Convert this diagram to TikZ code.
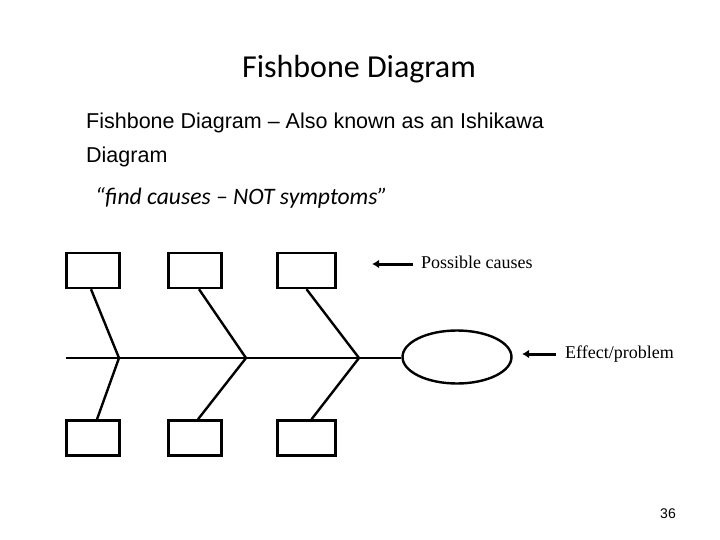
\documentclass[tikz,border=0pt]{standalone}
\usepackage{fontspec}
\setmainfont{Liberation Sans}
\newfontfamily\titlefont{Carlito}
\newfontfamily\labelfont{Liberation Serif}
\usetikzlibrary{arrows.meta,shapes.geometric}

\tikzset{
  cause/.style={draw, line width=2.4pt, minimum width=53pt, minimum height=35pt, inner sep=0pt},
  bone/.style={line width=2.4pt},
  pointer/.style={line width=3pt, -{Latex[length=7pt,width=8.5pt]}},
  tag/.style={font=\labelfont\fontsize{18}{20}\selectfont, inner sep=0pt, anchor=base west}
}

\begin{document}
\begin{tikzpicture}[x=1pt,y=1pt]
    % Marco fijo de la diapositiva
    \useasboundingbox (0,0) rectangle (720,-540);

    % Titulos
    \node[anchor=base, inner sep=0pt, font=\titlefont\fontsize{32}{36}\selectfont] (title) at (359,-78) {Fishbone Diagram};
    \node[anchor=north west, align=left, inner sep=0pt,
          font=\fontsize{21.5}{34}\selectfont] (intro) at (86,-113)
          {Fishbone Diagram – Also known as an Ishikawa\\Diagram};
    \node[anchor=base west, inner sep=0pt, font=\titlefont\itshape\fontsize{23.6}{27}\selectfont] (quote) at (95,-205)
          {“find causes – NOT symptoms”};

    % Cajas de causas
    \node[cause] (top1) at (93,-270.5) {};
    \node[cause] (top2) at (195,-270.5) {};
    \node[cause, minimum width=58pt] (top3) at (306.5,-270.5) {};
    \node[cause] (bot1) at (93,-438) {};
    \node[cause] (bot2) at (195,-438) {};
    \node[cause, minimum width=58pt] (bot3) at (306.5,-438) {};

    % Efecto
    \node[draw, ellipse, line width=2.4pt, minimum width=109pt, minimum height=53pt] (effect) at (457,-357) {};

    % Espina central
    \coordinate (tail) at (66,-358);
    \coordinate (j1) at (119,-358);
    \coordinate (j2) at (246,-358);
    \coordinate (j3) at (359,-358);
    \draw[bone] (tail) -- (effect.west |- tail);

    % Espinas
    \draw[bone] ([xshift=-2]top1.south) -- (j1) -- ([xshift=4]bot1.north);
    \draw[bone] ([xshift=4]top2.south) -- (j2) -- ([xshift=3]bot2.north);
    \draw[bone] (top3.south) -- (j3) -- ([xshift=5]bot3.north);

    % Etiquetas con flechas
    \node[tag] (causes) at (421,-268) {Possible causes};
    \coordinate (causesTip) at (372,-264);
    \draw[pointer] (413,-264) -- (causesTip);
    \node[tag] (problem) at (565,-358) {Effect/problem};
    \coordinate (problemTip) at (522,-354);
    \draw[pointer] (556,-354) -- (problemTip);

    % Numero de pagina
    \node[font=\fontsize{14}{16}\selectfont] (page) at (668,-514) {36};
\end{tikzpicture}
\end{document}
